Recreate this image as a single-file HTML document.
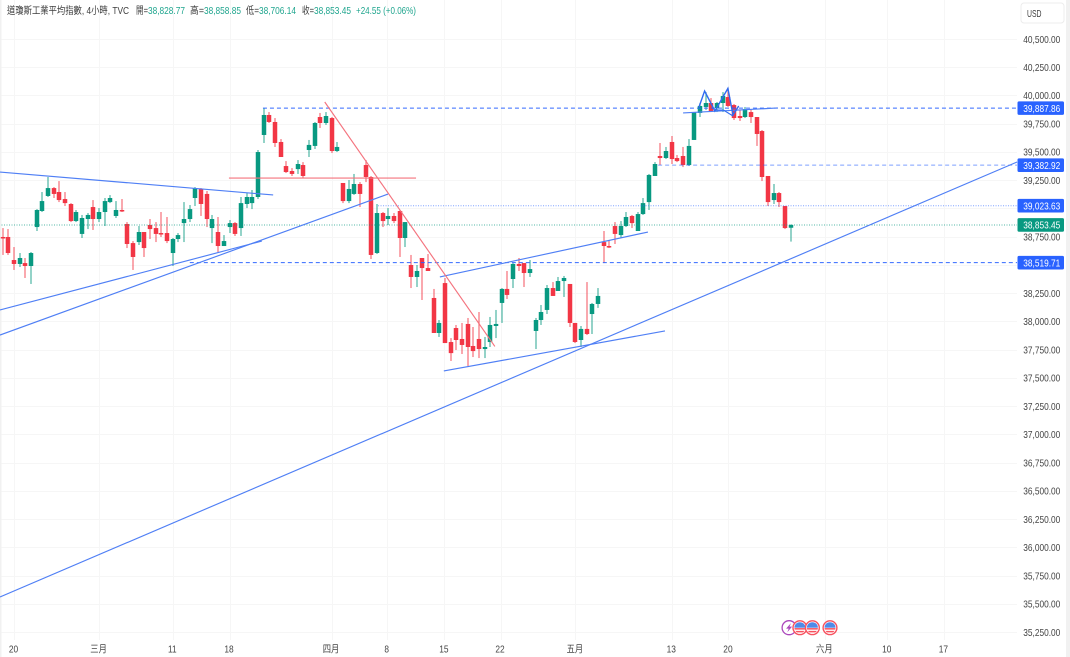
<!DOCTYPE html>
<html lang="zh-Hant">
<head>
<meta charset="utf-8">
<title>道瓊斯工業平均指數 4小時圖</title>
<style>
html,body{margin:0;padding:0;background:#fff;width:1070px;height:657px;overflow:hidden}
svg{display:block;filter:blur(.3px)}
text{font-family:"Liberation Sans","Noto Sans CJK TC",sans-serif;font-size:10.4px;fill:#3c3c3c}
.v{fill:#1fa58e}
.ax{fill:#444}
</style>
</head>
<body>
<svg id="chart" xmlns="http://www.w3.org/2000/svg" width="1070" height="657" viewBox="0 0 1070 657">
  <rect x="0" y="0" width="1.5" height="657" fill="#f1f1f1"/>
  <rect x="1066" y="0" width="4" height="657" fill="#f1f1f1"/>
  <g id="grid"></g>
  <g id="candles"></g>
  <g id="drawings"></g>
  <g id="events"></g>
  <g id="price-axis"></g>
  <g id="time-axis"></g>
  <g>
    <text x="7" y="14" textLength="122" lengthAdjust="spacingAndGlyphs">道瓊斯工業平均指數, 4小時, TVC</text>
    <text x="136" y="14" textLength="12" lengthAdjust="spacingAndGlyphs">開=</text>
    <text class="v" x="148" y="14" textLength="37" lengthAdjust="spacingAndGlyphs">38,828.77</text>
    <text x="190" y="14" textLength="14" lengthAdjust="spacingAndGlyphs">高=</text>
    <text class="v" x="204" y="14" textLength="37" lengthAdjust="spacingAndGlyphs">38,858.85</text>
    <text x="246" y="14" textLength="13" lengthAdjust="spacingAndGlyphs">低=</text>
    <text class="v" x="259" y="14" textLength="37" lengthAdjust="spacingAndGlyphs">38,706.14</text>
    <text x="302" y="14" textLength="12" lengthAdjust="spacingAndGlyphs">收=</text>
    <text class="v" x="314" y="14" textLength="37" lengthAdjust="spacingAndGlyphs">38,853.45</text>
    <text class="v" x="356" y="14" textLength="60" lengthAdjust="spacingAndGlyphs">+24.55 (+0.06%)</text>
  </g>
  <g>
    <rect x="1021" y="3" width="43" height="20" rx="3" fill="#fff" stroke="#ececec"/>
    <text x="1027" y="17" textLength="14.5" lengthAdjust="spacingAndGlyphs">USD</text>
  </g>
</svg>
<script>
const highs = [
38826,38817,38658,38605,38561,38614,38994,39145,39278,39189,
39242,39145,39047,38986,38942,38959,39074,39003,39092,39118,
39065,39083,38879,38711,38844,38791,38906,38879,38968,38924,
38738,38782,39056,39030,39189,39180,39154,38942,38924,38764,
38897,38879,39101,39136,39163,39517,39889,39853,39800,39614,
39419,39357,39428,39410,39606,39765,39845,39853,39809,39588,
39225,39251,39305,39233,39428,39287,39039,38968,39003,38959,
38986,38879,38588,38499,38561,38596,38287,38012,38384,37852,
37968,37986,38030,37950,38083,37862,38039,38101,38295,38446,
38516,38561,38516,38543,38030,38145,38322,38348,38393,38402,
38331,37986,37959,38348,38163,38295,38800,38720,38879,38888,
38968,38942,38968,39092,39305,39410,39579,39544,39641,39473,
39544,39614,39853,39933,40030,39977,39942,40030,40066,39924,
39871,39898,39880,39809,39694,39287,39216,39145,39021,38858.85];
const lows = [
38588,38588,38455,38481,38384,38331,38800,38968,39101,39092,
39056,39021,38879,38879,38738,38817,38809,38879,38844,39047,
38915,38968,38649,38455,38676,38570,38729,38702,38747,38693,
38490,38702,38702,38879,39021,38933,38835,38693,38614,38667,
38782,38756,38756,39003,38994,39083,39579,39756,39544,39455,
39313,39287,39305,39269,39455,39526,39712,39739,39490,39499,
39047,39047,39119,39012,39233,38552,38596,38835,38853,38870,
38570,38658,38295,38304,38189,38446,37897,37862,37808,37649,
37746,37711,37605,37684,37675,37675,37773,37852,37986,38198,
38295,38446,38304,38393,37755,37968,38065,38225,38269,38216,
37950,37808,37773,37879,37888,38119,38516,38649,38685,38738,
38835,38826,38800,38942,38986,39287,39384,39437,39393,39410,
39366,39375,39606,39809,39871,39853,39853,39853,39898,39783,
39774,39800,39756,39553,39242,39021,39039,39012,38817,38706.14];
const opens = [
38747,38747,38543,38508,38516,38490,38835,38977,39110,39180,
39145,39083,39039,38888,38774,38906,39012,38906,38968,39056,
38933,38986,38862,38693,38702,38791,38853,38826,38782,38782,
38605,38729,38870,38906,39092,39172,39128,38826,38791,38667,
38835,38870,38826,39039,39047,39101,39650,39827,39765,39588,
39375,39331,39348,39384,39517,39553,39809,39756,39800,39508,
39225,39065,39128,39216,39384,39278,38605,38959,38906,38933,
38977,38738,38499,38393,38561,38472,38207,37897,38339,37817,
37941,37844,37977,37782,37844,37755,37817,37959,38163,38287,
38375,38508,38516,38428,37915,38012,38101,38295,38269,38357,
38331,37986,37835,37933,38065,38154,38702,38667,38844,38764,
38844,38933,38800,38950,39056,39287,39464,39446,39588,39446,
39464,39384,39606,39845,39898,39933,39889,39933,39986,39915,
39818,39809,39853,39809,39685,39287,39074,39136,39021,38828.77];
const closes = [
38738,38605,38508,38561,38490,38605,38986,39065,39180,39128,
39074,39047,38888,38968,38915,38942,38906,38968,39065,39092,
38986,38977,38685,38570,38791,38649,38817,38774,38774,38711,
38729,38764,38906,38994,39180,39039,38906,38906,38667,38711,
38870,38774,39047,39101,39101,39499,39827,39765,39579,39455,
39322,39305,39393,39287,39562,39756,39756,39818,39508,39544,
39065,39172,39216,39128,39278,38588,38959,38888,38933,38888,
38738,38879,38393,38446,38472,38446,37897,37986,37808,37719,
37835,37791,37773,37737,37755,37773,37968,37977,38287,38234,
38508,38490,38428,38463,38012,38083,38295,38225,38357,38384,
37986,37817,37933,37888,38154,38225,38667,38658,38774,38844,
38924,38870,38950,39047,39296,39393,39446,39508,39437,39419,
39384,39553,39853,39907,39933,39862,39933,39995,39907,39800,
39800,39880,39809,39659,39278,39056,39136,39056,38826,38853.45];

const gridPrices = [40500,40250,40000,39750,39500,39250,39000,38750,38500,38250,38000,37750,37500,37250,37000,36750,36500,36250,36000,35750,35500,35250];
const priceLabels = ["40,500.00","40,250.00","40,000.00","39,750.00","39,500.00","39,250.00","","38,750.00","","38,250.00","38,000.00","37,750.00","37,500.00","37,250.00","37,000.00","36,750.00","36,500.00","36,250.00","36,000.00","35,750.00","35,500.00","35,250.00"];
const timeBars = [2,17,30,40,58,67.8,77.9,87.8,101,118,128,145,156,166];
const timeLabels = ["20","三月","11","18","四月","8","15","22","五月","13","20","六月","10","17"];

const blueTrends = [
  [-0.48,39322,47.7,39119],
  [-0.48,38101,45.7,38711],
  [-0.48,37879,67.95,39127],
  [-0.48,35560,178.9,39411],
  [77.1,38393,113.8,38791],
  [77.8,37561,116.8,37915],
  [120,39845,136.7,39889]
];
const redTrends = [
  [56.8,39942,86.8,37778],
  [39.9,39269,72.9,39269]
];
const patternBars = [122.8,123.8,125.6,127.9,128.8,129.8];
const patternPrices = [39898,40039,39862,40062,39827,39907];
const patternBaseBars = [125.6,127.1,128.8];
const patternBasePrices = [39871,39871,39818];

const levelPrices = [39887.86,39382.92,39023.63,38519.71];
const levelStartBars = [45.9,115.6,66.2,33];
const levelDashes = ["4 3","4 3","1 1.5","4 3"];
const levelOpacity = [0.95,0.6,0.6,0.95];
const levelLabels = ["39,887.86","39,382.92","39,023.63","38,519.71"];
const lastPrice = 38853.45;
const lastLabel = "38,853.45";
const flagEventBars = [140.6,142.8,145.9];
const boltEventBar = 138.7;

const NS = 'http://www.w3.org/2000/svg';
const UP = '#089981', DOWN = '#f23645', BLUE = '#2962ff';
const xOf = b => 2.7 + 5.67 * b;
const yOf = p => (40845 - p) / 8.853;
const PLOT_R = 1017;

function mk(parent, tag, attrs) {
  const el = document.createElementNS(NS, tag);
  for (const k in attrs) el.setAttribute(k, attrs[k]);
  parent.appendChild(el);
  return el;
}
const grid = document.getElementById('grid');
const candles = document.getElementById('candles');
const drawings = document.getElementById('drawings');
const events = document.getElementById('events');
const pAxis = document.getElementById('price-axis');
const tAxis = document.getElementById('time-axis');

gridPrices.forEach((p, i) => {
  const y = Math.round(yOf(p)) + 0.5;
  const line = mk(grid, 'line', {x1: 1.5, x2: PLOT_R, y1: y, y2: y, stroke: '#f6f6f6', 'stroke-width': 1});
  
  
  if (priceLabels[i]) {
    const t = mk(pAxis, 'text', {x: 1023.3, y: yOf(p) + 3.8, class: 'ax', textLength: 37, lengthAdjust: 'spacingAndGlyphs'});
    t.textContent = priceLabels[i];
    
    
  }
});

timeBars.forEach((b, i) => {
  const x = Math.round(xOf(b)) + 0.5;
  const line = mk(grid, 'line', {x1: x, x2: x, y1: 0, y2: 640, stroke: '#f6f6f6', 'stroke-width': 1});
  
  
  const t = mk(tAxis, 'text', {x: xOf(b) - 0.5, y: 652.5, class: 'ax', 'text-anchor': 'middle'});
  t.textContent = timeLabels[i];
  
  
  t.setAttribute('textLength', (t.getComputedTextLength() * 0.8).toFixed(1));
  t.setAttribute('lengthAdjust', 'spacingAndGlyphs');
});

opens.forEach((o, i) => {
  const c = closes[i], color = c >= o ? UP : DOWN;
  const x = Math.round(xOf(i));
  const g = mk(candles, 'g', {});
  
  
  const wick = mk(g, 'line', {x1: x, x2: x, y1: yOf(highs[i]), y2: yOf(lows[i]), stroke: color, 'stroke-width': 1.2, opacity: 0.72});
  
  
  const top = yOf(Math.max(o, c)), h = Math.max(1.5, yOf(Math.min(o, c)) - top);
  const body = mk(g, 'rect', {x: x - 2.25, y: top, width: 4.5, height: h, fill: color});
  
  
});

levelPrices.forEach((p, i) => {
  const y = yOf(p);
  const line = mk(drawings, 'line', {x1: xOf(levelStartBars[i]), x2: PLOT_R, y1: y, y2: y, stroke: BLUE, 'stroke-width': 1, 'stroke-dasharray': levelDashes[i], opacity: levelOpacity[i]});
  
  
  const r = mk(pAxis, 'rect', {x: 1017.5, y: y - 6.8, width: 46.5, height: 13.6, rx: 1.5, fill: BLUE});
  
  
  const t = mk(pAxis, 'text', {x: 1023.3, y: y + 3.7, style: 'fill:#fff', textLength: 37, lengthAdjust: 'spacingAndGlyphs'});
  t.textContent = levelLabels[i];
  
  
});

const lastY = yOf(lastPrice);
const lastLine = mk(drawings, 'line', {x1: 1.5, x2: PLOT_R, y1: lastY, y2: lastY, stroke: UP, 'stroke-width': 1, 'stroke-dasharray': '1 1.5', opacity: 0.7});


const lastTag = mk(pAxis, 'rect', {x: 1017.5, y: lastY - 6.8, width: 46.5, height: 13.6, rx: 1.5, fill: UP});


const lastText = mk(pAxis, 'text', {x: 1023.3, y: lastY + 3.7, style: 'fill:#fff', textLength: 37, lengthAdjust: 'spacingAndGlyphs'});
lastText.textContent = lastLabel;



blueTrends.forEach(t => {
  const l = mk(drawings, 'line', {x1: xOf(t[0]), y1: yOf(t[1]), x2: xOf(t[2]), y2: yOf(t[3]), stroke: '#4f7ff5', 'stroke-width': 1.15});
  
  
});
redTrends.forEach(t => {
  const l = mk(drawings, 'line', {x1: xOf(t[0]), y1: yOf(t[1]), x2: xOf(t[2]), y2: yOf(t[3]), stroke: '#f4737e', 'stroke-width': 1.15});
  
  
});
const patternLine = mk(drawings, 'polyline', {
  points: patternBars.map((b, i) => xOf(b).toFixed(1) + ',' + yOf(patternPrices[i]).toFixed(1)).join(' '),
  fill: 'none', stroke: '#2f6bf0', 'stroke-width': 1.4
});


const patternBase = mk(drawings, 'polyline', {
  points: patternBaseBars.map((b, i) => xOf(b).toFixed(1) + ',' + yOf(patternBasePrices[i]).toFixed(1)).join(' '),
  fill: 'none', stroke: '#2f6bf0', 'stroke-width': 1.1
});



const EVENT_Y = 627.7;
const boltG = mk(events, 'g', {transform: 'translate(' + xOf(boltEventBar).toFixed(1) + ',' + EVENT_Y + ')'});


mk(boltG, 'circle', {r: 7, fill: '#fff', stroke: '#ab47bc', 'stroke-width': 1.3});
mk(boltG, 'polygon', {points: '1.8,-4.6 -3,0.9 -0.4,0.9 -1.8,4.6 3,-1.1 0.4,-1.1', fill: '#ab47bc'});

const defs = mk(document.getElementById('chart'), 'defs', {});
const clip = mk(defs, 'clipPath', {id: 'flag-clip'});
mk(clip, 'circle', {r: 5.5});

flagEventBars.forEach(b => {
  const g = mk(events, 'g', {transform: 'translate(' + xOf(b).toFixed(1) + ',' + EVENT_Y + ')'});
  
  
  mk(g, 'circle', {r: 6.9, fill: '#fff', stroke: '#f7525f', 'stroke-width': 1.4});
  const f = mk(g, 'g', {'clip-path': 'url(#flag-clip)'});
  mk(f, 'rect', {x: -6, y: -6, width: 12, height: 12, fill: '#fff'});
  mk(f, 'rect', {x: -6, y: -6, width: 12, height: 6, fill: '#4f8ae8'});
  mk(f, 'rect', {x: -6, y: 0.4, width: 12, height: 1.5, fill: '#f7525f'});
  mk(f, 'rect', {x: -6, y: 3.2, width: 12, height: 1.5, fill: '#f7525f'});
});
</script>
</body>
</html>
